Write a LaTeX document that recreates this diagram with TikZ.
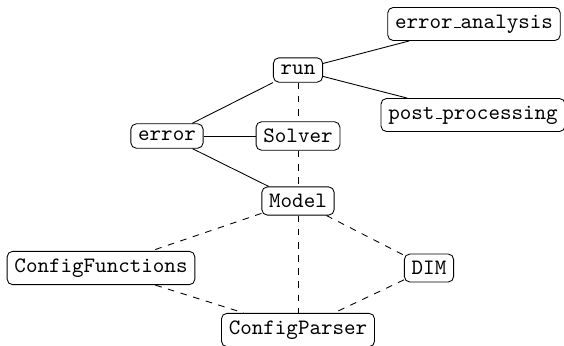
\documentclass[tikz,border=0pt]{standalone}
\tikzset{
  mod/.style={draw, rounded corners=2.5pt, font=\ttfamily, fill=white, inner sep=3.33pt, line width=0.4pt},
  dep/.style={line width=0.4pt},
  weak/.style={line width=0.4pt, dashed}
}
\newcommand{\uscore}{\leavevmode\kern.06em\vbox{\hrule width.3em}}
\begin{document}
\begin{tikzpicture}[x=0.455pt, y=-0.455pt]
\useasboundingbox (0,0) rectangle (564,345);
\node[mod] (ea)  at (474,24)  {error\uscore analysis};
\node[mod] (pp)  at (473,115) {post\uscore processing};
\node[mod] (run) at (298,70)  {run};
\node[mod] (err) at (167,136) {error};
\node[mod] (sol) at (298,136) {Solver};
\node[mod] (mdl) at (298,201) {Model};
\node[mod] (cf)  at (101,268) {ConfigFunctions};
\node[mod] (dim) at (429,268) {DIM};
\node[mod] (cp)  at (298,330) {ConfigParser};
\draw[dep] (run) -- (ea);
\draw[dep] (run) -- (pp);
\draw[dep] (run) -- (err);
\draw[dep] (err) -- (sol);
\draw[dep] (err) -- (mdl);
\draw[weak] (run) -- (sol);
\draw[weak] (sol) -- (mdl);
\draw[weak] (mdl) -- (cp);
\draw[weak] (mdl) -- (cf);
\draw[weak] (mdl) -- (dim);
\draw[weak] (cf) -- (cp);
\draw[weak] (dim) -- (cp);
\end{tikzpicture}
\end{document}
